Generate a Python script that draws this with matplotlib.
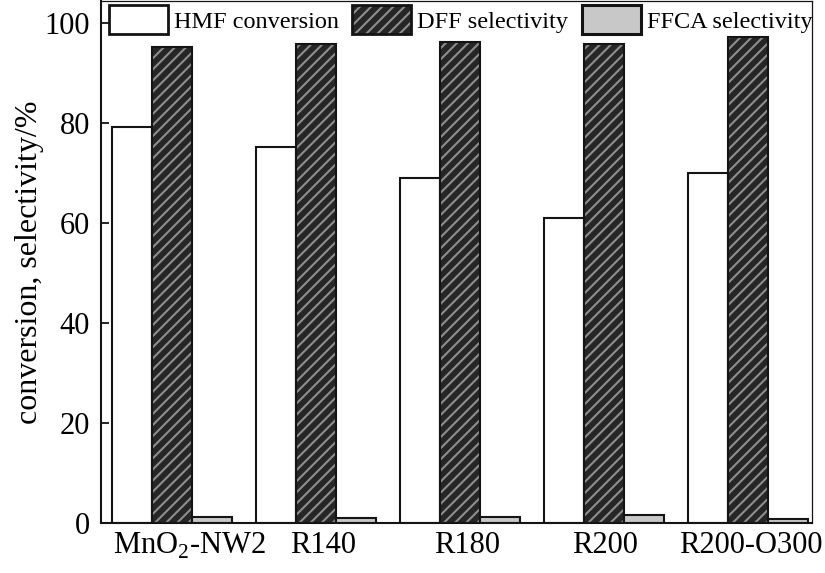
import numpy as np
import matplotlib
matplotlib.use('Agg')
import matplotlib.pyplot as plt
from matplotlib.patches import Patch

plt.rcParams['font.family'] = ['Liberation Serif', 'DejaVu Serif']
plt.rcParams['mathtext.fontset'] = 'custom'
plt.rcParams['mathtext.rm'] = 'Liberation Serif'
plt.rcParams['hatch.linewidth'] = 1.5

# data
samples = ['MnO$_2$-NW2', 'R140', 'R180', 'R200', 'R200-O300']
hmf_conv = [79.3, 75.2, 69.0, 61.0, 70.1]
dff_sel = [95.2, 95.8, 96.3, 95.8, 97.2]
ffca_sel = [1.3, 1.1, 1.3, 1.6, 0.9]
label_shift = [0.12, 0.05, 0.05, 0.01, 0.02]

x = np.arange(len(samples))
w = 0.278
edge = '#141414'
dark = '#262626'
hatch_grey = '#8e8e8e'

fig = plt.figure(figsize=(8.25, 5.73), dpi=100, facecolor='w')
ax = fig.add_axes([101/825, 50/573, 711/825, 522/573])

ax.bar(x - w, hmf_conv, w, color='white', edgecolor=edge, lw=1.5)
# hatched bar: grey hatch on dark fill, then black outline on top
ax.bar(x, dff_sel, w, color=dark, edgecolor=hatch_grey, hatch='///', lw=0)
ax.bar(x, dff_sel, w, fill=False, edgecolor=edge, lw=1.5)
ax.bar(x + w, ffca_sel, w, color='#c8c8c8', edgecolor=edge, lw=1.5)

ax.set_xlim(-0.493, 4.444)
ax.set_ylim(0, 104.4)
ax.set_yticks([0, 20, 40, 60, 80, 100])
ax.set_xticks(x + np.array(label_shift))
ax.set_xticklabels(samples)
ax.tick_params(axis='y', direction='in', length=6, width=1.2, labelsize=22, pad=8)
ax.tick_params(axis='x', length=0, labelsize=22, pad=6)
ax.set_ylabel('conversion, selectivity/%', fontsize=23, labelpad=0)
for spine in ('top', 'right', 'bottom', 'left'):
    ax.spines[spine].set_color(edge)
ax.spines['left'].set_linewidth(1.5)
ax.spines['bottom'].set_linewidth(1.5)
ax.spines['top'].set_linewidth(0.9)
ax.spines['right'].set_linewidth(0.9)

h1 = Patch(facecolor='white', edgecolor=edge, lw=2)
h2 = (Patch(facecolor=dark, edgecolor=hatch_grey, hatch='///', lw=0),
      Patch(fill=False, edgecolor=edge, lw=2))
h3 = Patch(facecolor='#c8c8c8', edgecolor=edge, lw=2.2)
leg = ax.legend([h1, h2, h3], ['HMF conversion', 'DFF selectivity', 'FFCA selectivity'],
                ncol=3, loc='upper left', frameon=False, fontsize=17.5,
                handlelength=2.43, handleheight=1.45, handletextpad=0.25,
                columnspacing=0.55, borderpad=0, borderaxespad=0,
                bbox_to_anchor=(0.011, 0.992))

plt.savefig('out.png', dpi=100)
